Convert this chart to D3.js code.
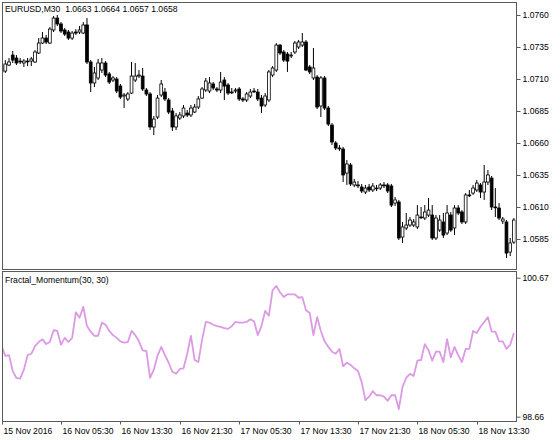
<!DOCTYPE html>
<html>
<head>
<meta charset="utf-8">
<script src="https://cdn.jsdelivr.net/npm/d3@7"></script>
<style>
html,body{margin:0;padding:0;background:#fff;}
svg{display:block;font-family:"Liberation Sans",Arial,sans-serif;}
</style>
</head>
<body>
<svg id="chart" width="560" height="440"></svg>
<script>
// ---- data (EURUSD, M30) ----
const symbolTitle = "EURUSD,M30  1.0663 1.0664 1.0657 1.0658";
const indicatorTitle = "Fractal_Momentum(30, 30)";
const startTime = new Date(2016, 10, 15, 21, 30);

const open = [1.07155,1.07162,1.07209,1.07287,1.07264,1.07240,1.07225,1.07240,1.07240,1.07233,
1.07303,1.07381,1.07420,1.07381,1.07483,1.07576,1.07530,1.07483,1.07467,1.07420,
1.07467,1.07467,1.07459,1.07522,1.07233,1.07069,1.07108,1.07170,1.07225,1.07139,
1.07092,1.07100,1.07045,1.06967,1.06944,1.06990,1.07092,1.07123,1.07123,1.07014,
1.06983,1.06725,1.06803,1.06975,1.06998,1.06936,1.06850,1.06725,1.06795,1.06811,
1.06834,1.06819,1.06842,1.06881,1.06951,1.07014,1.07006,1.07061,1.07022,1.07014,
1.07092,1.07053,1.06998,1.07006,1.07022,1.06944,1.06936,1.06967,1.07006,1.06998,
1.06951,1.06897,1.06936,1.07131,1.07170,1.07365,1.07311,1.07295,1.07280,1.07311,
1.07350,1.07365,1.07389,1.07194,1.07108,1.07115,1.06889,1.07108,1.06873,1.06740,
1.06600,1.06561,1.06553,1.06365,1.06428,1.06272,1.06272,1.06256,1.06217,1.06256,
1.06233,1.06248,1.06248,1.06272,1.06272,1.06264,1.06131,1.06139,1.05865,1.05936,
1.05959,1.05959,1.05944,1.06022,1.06014,1.06037,1.06037,1.05858,1.05920,1.05983,
1.05897,1.06037,1.05936,1.06092,1.06061,1.05983,1.06194,1.06209,1.06233,1.06272,
1.06217,1.06295,1.06326,1.06100,1.06092,1.05990,1.05983,1.05748,1.05826];

const high = [1.07225,1.07248,1.07264,1.07319,1.07287,1.07264,1.07256,1.07264,1.07272,1.07326,
1.07420,1.07467,1.07444,1.07506,1.07592,1.07600,1.07545,1.07498,1.07483,1.07475,
1.07490,1.07514,1.07545,1.07576,1.07248,1.07194,1.07256,1.07264,1.07240,1.07155,
1.07123,1.07115,1.07061,1.06990,1.06998,1.07233,1.07225,1.07170,1.07186,1.07030,
1.06998,1.06811,1.06975,1.07092,1.07030,1.06951,1.06873,1.06834,1.06842,1.06897,
1.06858,1.06897,1.06905,1.06967,1.07037,1.07108,1.07115,1.07076,1.07037,1.07155,
1.07115,1.07069,1.07030,1.07030,1.07037,1.06959,1.06998,1.07022,1.07030,1.07022,
1.06975,1.06990,1.07170,1.07201,1.07381,1.07373,1.07326,1.07311,1.07311,1.07397,
1.07405,1.07459,1.07405,1.07209,1.07342,1.07131,1.07123,1.07123,1.06889,1.06756,
1.06615,1.06584,1.06569,1.06467,1.06444,1.06319,1.06303,1.06280,1.06272,1.06280,
1.06287,1.06272,1.06287,1.06295,1.06287,1.06280,1.06178,1.06155,1.05983,1.06053,
1.06022,1.06006,1.06115,1.06100,1.06115,1.06170,1.06115,1.06037,1.06037,1.06053,
1.06115,1.06061,1.06115,1.06115,1.06076,1.06209,1.06233,1.06272,1.06311,1.06287,
1.06428,1.06389,1.06342,1.06248,1.06131,1.06022,1.05998,1.05858,1.06014];

const low = [1.07139,1.07147,1.07201,1.07225,1.07209,1.07217,1.07194,1.07201,1.07201,1.07225,
1.07295,1.07373,1.07373,1.07373,1.07467,1.07514,1.07459,1.07436,1.07405,1.07405,
1.07444,1.07451,1.07451,1.07217,1.06998,1.07037,1.07092,1.07147,1.07115,1.07061,
1.07076,1.06990,1.06944,1.06873,1.06928,1.06983,1.07076,1.07108,1.07006,1.06967,
1.06701,1.06662,1.06787,1.06959,1.06928,1.06826,1.06694,1.06701,1.06780,1.06795,
1.06803,1.06803,1.06834,1.06865,1.06944,1.06998,1.06990,1.07014,1.06998,1.06990,
1.06936,1.06975,1.06983,1.06990,1.06928,1.06920,1.06920,1.06951,1.06990,1.06928,
1.06834,1.06881,1.06920,1.07115,1.07155,1.07287,1.07233,1.07155,1.07264,1.07295,
1.07334,1.07350,1.07162,1.07139,1.07092,1.06865,1.06803,1.06858,1.06733,1.06584,
1.06545,1.06537,1.06295,1.06272,1.06264,1.06256,1.06248,1.06209,1.06201,1.06217,
1.06217,1.06225,1.06233,1.06248,1.06209,1.06100,1.06108,1.05842,1.05819,1.05920,
1.05944,1.05944,1.05928,1.06006,1.05998,1.06022,1.05842,1.05842,1.05905,1.05858,
1.05881,1.05905,1.05881,1.06037,1.05967,1.05967,1.06178,1.06194,1.06217,1.06170,
1.06155,1.06272,1.06076,1.06022,1.05998,1.05967,1.05701,1.05717,1.05811];

const close = [1.07209,1.07217,1.07233,1.07248,1.07225,1.07233,1.07240,1.07240,1.07256,1.07311,
1.07381,1.07420,1.07389,1.07490,1.07576,1.07530,1.07475,1.07451,1.07420,1.07459,
1.07459,1.07483,1.07522,1.07233,1.07069,1.07147,1.07225,1.07225,1.07131,1.07076,
1.07108,1.07006,1.06959,1.06975,1.06983,1.07123,1.07123,1.07131,1.07022,1.06983,
1.06725,1.06787,1.06951,1.07061,1.06944,1.06842,1.06725,1.06811,1.06819,1.06873,
1.06819,1.06873,1.06881,1.06944,1.07022,1.07084,1.07069,1.07030,1.07014,1.07076,
1.07045,1.06990,1.06998,1.07014,1.06944,1.06936,1.06983,1.06998,1.07006,1.06944,
1.06889,1.06967,1.07155,1.07186,1.07365,1.07303,1.07248,1.07240,1.07287,1.07381,
1.07389,1.07389,1.07170,1.07155,1.07186,1.06881,1.07108,1.06873,1.06748,1.06608,
1.06561,1.06561,1.06350,1.06436,1.06280,1.06295,1.06272,1.06225,1.06248,1.06233,
1.06264,1.06248,1.06272,1.06272,1.06225,1.06115,1.06155,1.05858,1.05944,1.05959,
1.05998,1.05983,1.06037,1.06022,1.06061,1.06076,1.05858,1.06014,1.05998,1.05881,
1.06053,1.05920,1.06092,1.06053,1.05983,1.06194,1.06194,1.06248,1.06287,1.06217,
1.06295,1.06350,1.06100,1.06100,1.06014,1.06006,1.05740,1.05819,1.05998];

const momentum = [99.68,99.54,99.55,99.32,99.22,99.21,99.34,99.55,99.57,99.68,
99.74,99.78,99.71,99.74,99.91,99.90,99.70,99.80,99.74,99.80,
100.17,100.09,100.25,99.97,99.89,99.83,99.83,100.02,99.99,99.90,
99.84,99.80,99.75,99.73,99.74,99.90,99.84,99.75,99.62,99.61,
99.22,99.34,99.54,99.67,99.55,99.44,99.31,99.28,99.35,99.36,
99.57,99.83,99.48,99.45,99.77,100.03,100.02,99.99,99.97,99.96,
99.94,99.93,99.97,100.03,100.02,100.02,100.03,100.07,100.04,99.84,
99.97,100.19,100.12,100.49,100.55,100.46,100.39,100.43,100.43,100.43,
100.38,100.39,100.20,100.16,99.84,100.10,99.90,99.75,99.67,99.60,
99.57,99.64,99.39,99.44,99.41,99.36,99.32,99.16,98.90,98.95,
99.03,98.97,98.97,98.95,98.89,98.97,98.97,98.77,99.09,99.22,
99.28,99.25,99.47,99.48,99.71,99.62,99.47,99.60,99.60,99.45,
99.78,99.52,99.67,99.55,99.45,99.64,99.64,99.90,99.87,99.96,
100.03,100.10,99.89,99.89,99.75,99.75,99.64,99.70,99.87];

const priceTicks = [1.0585, 1.0610, 1.0635, 1.0660, 1.0685, 1.0710, 1.0735, 1.0760];
const momentumTicks = [98.66, 100.67];

// ---- build ----
const n = close.length;
const bars = d3.range(n).map(i => ({
  i, t: d3.timeMinute.offset(startTime, 30 * i),
  o: open[i], h: high[i], l: low[i], c: close[i], m: momentum[i]
}));

const svg = d3.select("#chart");
const frameColor = "#5a5a5a";
const font = 8.6;

const L = 2, R = 516, mainTop = 2, mainBot = 269, indTop = 271, indBot = 421;

const x = d3.scaleLinear().domain([0, n - 1]).range([1.6, 513.9]);
const y = d3.scaleLinear().domain([1.0585, 1.0760]).range([239, 15]);
const yi = d3.scaleLinear().domain([98.66, 100.67]).range([416.7, 277.7]);

const defs = svg.append("defs");
defs.append("clipPath").attr("id", "clipMain").append("rect")
  .attr("x", L + 0.5).attr("y", mainTop + 0.5).attr("width", R - L - 1).attr("height", mainBot - mainTop - 1);
defs.append("clipPath").attr("id", "clipInd").append("rect")
  .attr("x", L + 0.5).attr("y", indTop + 0.5).attr("width", R - L - 1).attr("height", indBot - indTop - 1);

// candles
const gC = svg.append("g").attr("clip-path", "url(#clipMain)");
const bw = 2.8;
gC.selectAll("line.wick").data(bars).join("line")
  .attr("x1", d => x(d.i)).attr("x2", d => x(d.i))
  .attr("y1", d => y(d.h)).attr("y2", d => y(d.l))
  .attr("stroke", "#000").attr("stroke-width", 1);
gC.selectAll("rect.body").data(bars).join("rect")
  .attr("x", d => x(d.i) - bw / 2)
  .attr("y", d => y(Math.max(d.o, d.c)))
  .attr("width", bw)
  .attr("height", d => Math.max(0.8, Math.abs(y(d.o) - y(d.c))))
  .attr("fill", d => d.c > d.o ? "#fff" : "#000")
  .attr("stroke", "#000").attr("stroke-width", 0.8);

// indicator line
svg.append("g").attr("clip-path", "url(#clipInd)")
  .append("path").datum(bars)
  .attr("fill", "none").attr("stroke", "#dc9ae4").attr("stroke-width", 1.8)
  .attr("stroke-linejoin", "round")
  .attr("d", d3.line().x(d => x(d.i)).y(d => yi(d.m)));

// frames
svg.append("rect").attr("x", L + 0.5).attr("y", mainTop + 0.5)
  .attr("width", R - L).attr("height", mainBot - mainTop)
  .attr("fill", "none").attr("stroke", frameColor);
svg.append("rect").attr("x", L + 0.5).attr("y", indTop + 0.5)
  .attr("width", R - L).attr("height", indBot - indTop)
  .attr("fill", "none").attr("stroke", frameColor);

// price axis
const ay = svg.append("g").attr("transform", `translate(${R + 0.5},0)`)
  .call(d3.axisRight(y).tickValues(priceTicks).tickFormat(d3.format(".4f")).tickSize(4).tickPadding(2));
ay.select(".domain").remove();
ay.selectAll("line").attr("stroke", frameColor);
ay.selectAll("text").attr("font-size", font).attr("fill", "#000").attr("font-family", "Liberation Sans, Arial, sans-serif");

const ai = svg.append("g").attr("transform", `translate(${R + 0.5},0)`)
  .call(d3.axisRight(yi).tickValues(momentumTicks).tickFormat(d3.format(".2f")).tickSize(4).tickPadding(2));
ai.select(".domain").remove();
ai.selectAll("line").attr("stroke", frameColor);
ai.selectAll("text").attr("font-size", font).attr("fill", "#000").attr("font-family", "Liberation Sans, Arial, sans-serif");

// time axis
const tickBars = bars.filter(d => d.i === 0 || (d.t.getMinutes() === 30 && [5, 13, 21].includes(d.t.getHours())));
const fmtFirst = d3.timeFormat("%d %b %Y"), fmtOther = d3.timeFormat("%d %b %H:%M");
const ax = svg.append("g").attr("transform", `translate(0,${indBot + 0.5})`)
  .call(d3.axisBottom(x).tickValues(tickBars.map(d => d.i))
    .tickFormat(i => i === 0 ? fmtFirst(bars[i].t) : fmtOther(bars[i].t))
    .tickSize(3).tickPadding(3));
ax.select(".domain").remove();
ax.selectAll("line").attr("stroke", frameColor);
ax.selectAll(".tick").attr("transform", d => `translate(${Math.max(L + 0.5, Math.round(x(d)) + 0.5)},0)`);
ax.selectAll("text").attr("text-anchor", "start").attr("x", 1)
  .attr("font-size", font).attr("fill", "#000").attr("font-family", "Liberation Sans, Arial, sans-serif");

// titles
svg.append("text").attr("x", 5).attr("y", 12).attr("font-size", font).attr("fill", "#000")
  .attr("xml:space", "preserve").style("white-space", "pre").text(symbolTitle);
svg.append("text").attr("x", 5).attr("y", 283).attr("font-size", font).attr("fill", "#000")
  .text(indicatorTitle);
</script>
</body>
</html>
